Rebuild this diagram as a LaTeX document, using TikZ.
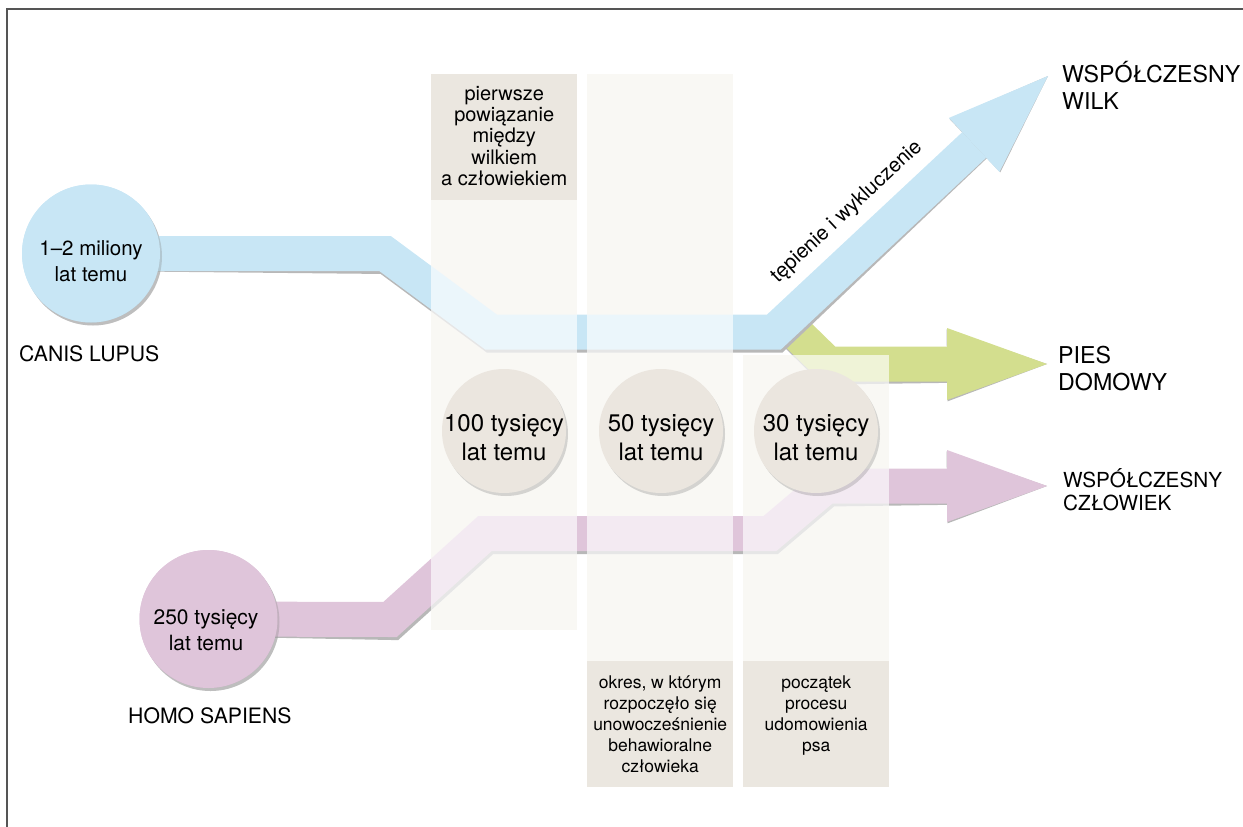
\documentclass[tikz,border=0pt]{standalone}
\usepackage{fontspec}
\setmainfont{TeX Gyre Heros}
\usetikzlibrary{arrows.meta,positioning,shadows}

\definecolor{wolfblue}{RGB}{200,230,245}
\definecolor{doggreen}{RGB}{211,222,142}
\definecolor{humanpink}{RGB}{223,197,218}
\definecolor{stonegray}{RGB}{235,230,223}
\definecolor{notebg}{RGB}{235,231,224}
\definecolor{colbase}{RGB}{238,235,226}
\definecolor{framegray}{RGB}{85,85,85}

\begin{document}
\begin{tikzpicture}[
  x=1pt, y=-1pt,
  font=\fontsize{20.5}{26}\selectfont,
  band/.style={line width=35pt, line join=miter},
  bandshadow/.style={band, draw=black!28, shift={(1.5,3)}},
  flathead/.style={-{Triangle[length=100pt, width=72pt, line width=0pt]}},
  slanthead/.style={-{Triangle[length=101pt, width=74pt, line width=0pt]}},
  stem/.style={circle, minimum size=138pt, inner sep=0pt, drop shadow={shadow xshift=2pt, shadow yshift=-3pt, opacity=.3}},
  epoch/.style={circle, fill=stonegray, minimum size=124pt, inner sep=0pt, drop shadow={shadow xshift=2pt, shadow yshift=-3pt, opacity=.3}},
  ctext/.style={align=center, inner sep=0pt},
  epochtext/.style={align=center, inner sep=0pt, font=\fontsize{24}{29}\selectfont},
  notebox/.style={fill=notebg, minimum width=146pt, minimum height=126pt, inner sep=0pt, anchor=north west},
  notetext/.style={align=center, inner sep=0pt, font=\fontsize{17.5}{21}\selectfont},
  endlabel/.style={align=left, inner sep=0pt, anchor=west, font=\fontsize{23.2}{27}\selectfont},
  taxon/.style={inner sep=0pt, anchor=west, font=\fontsize{21.2}{26}\selectfont}
]
\useasboundingbox (0,0) rectangle (1243,827);

% ----- FRAME -----
\draw[framegray, line width=1.3pt] (7,827) -- (7,9) -- (1243,9);

% ----- COLUMNS (BASE) -----
\fill[colbase] (431,74) rectangle (577,630);
\fill[colbase] (587,74) rectangle (733,787);
\fill[colbase] (743,355) rectangle (889,787);

% ----- END POINTS -----
\coordinate (wolfend) at (1048,76);
\coordinate (dogend) at (1047,364);
\coordinate (humanend) at (1047,486);

% ----- ROOT CIRCLES -----
\node[stem, fill=wolfblue] (wolf) at (91,253.5) {};
\node[stem, fill=humanpink] (human) at (208.5,619) {};

% ----- BANDS -----
\draw[bandshadow, flathead] (785,322) -- (828,364) -- (dogend);
\draw[band, draw=doggreen, flathead] (785,322) -- (828,364) -- (dogend);
\draw[bandshadow, slanthead] (wolf.center) -- (385,253.5) -- (491,332) -- (774,332) -- (wolfend);
\draw[band, draw=wolfblue, slanthead] (wolf.center) -- (385,253.5) -- (491,332) -- (774,332) -- (wolfend);
\draw[bandshadow, flathead] (human.center) -- (390,619.5) -- (485,533.5) -- (770,533.5) -- (826,486) -- (humanend);
\draw[band, draw=humanpink, flathead] (human.center) -- (390,619.5) -- (485,533.5) -- (770,533.5) -- (826,486) -- (humanend);

% redraw root circles over the band ends
\node[stem, fill=wolfblue] (wolftop) at (wolf.center) {};
\node[stem, fill=humanpink] (humantop) at (human.center) {};

% ----- COLUMNS (VEIL) -----
\fill[white, opacity=.65] (431,200) rectangle (577,630);
\fill[white, opacity=.65] (587,74) rectangle (733,661);
\fill[white, opacity=.65] (743,355) rectangle (889,661);

% ----- NOTE BOXES -----
\node[notebox] (note1) at (431,74) {};
\node[notebox] (note2) at (587,661) {};
\node[notebox] (note3) at (743,661) {};
\node[notetext, font=\fontsize{20}{21.3}\selectfont, below=12pt of note1.north] (note1txt) {pierwsze\\powiązanie\\między\\wilkiem\\a człowiekiem};
\node[notetext, below=15pt of note2.north] (note2txt) {okres, w którym\\rozpoczęło się\\unowocześnienie\\behawioralne\\człowieka};
\node[notetext, below=15pt of note3.north] (note3txt) {początek\\procesu\\udomowienia\\psa};

% ----- EPOCH CIRCLES -----
\node[epoch] (ep100) at (504,431) {};
\node[epoch] (ep50) at (661,431) {};
\node[epoch] (ep30) at (816,431) {};
\node[epochtext] at (504,437.5) {100 tysięcy\\lat temu};
\node[epochtext] at (661,437.5) {50 tysięcy\\lat temu};
\node[epochtext] at (816,437.5) {30 tysięcy\\lat temu};

% ----- ROOT TEXTS -----
\node[ctext] (wolftxt) at (91,261) {1–2 miliony\\lat temu};
\node[ctext, font=\fontsize{21}{26}\selectfont] (humantxt) at (206,630) {250 tysięcy\\lat temu};
\node[taxon] (canis) at (19,353.5) {CANIS LUPUS};
\node[taxon] (homo) at (128,715.5) {HOMO SAPIENS};

% ----- END LABELS -----
\node[endlabel] (modwolf) at (1062,85.5) {WSPÓŁCZESNY\\WILK};
\node[endlabel] (dog) at (1058,368.5) {PIES\\DOMOWY};
\node[endlabel, font=\fontsize{20.7}{23}\selectfont] (modhuman) at (1063,490) {WSPÓŁCZESNY\\CZŁOWIEK};

% ----- BAND LABEL -----
\node[rotate=43, inner sep=0pt, font=\fontsize{20.5}{24}\selectfont] (cull) at (847,212) {tępienie i wykluczenie};

\end{tikzpicture}
\end{document}
